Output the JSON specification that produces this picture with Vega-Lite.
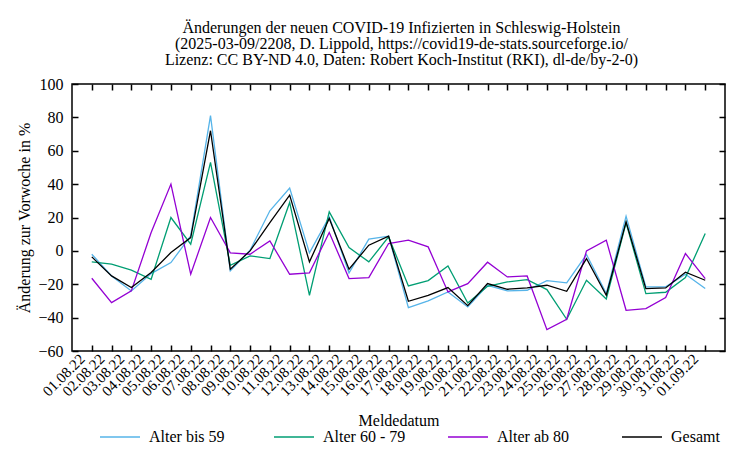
{
  "$schema": "https://vega.github.io/schema/vega-lite/v6.json",
  "width": 653,
  "height": 267,
  "autosize": "none",
  "padding": {"left": 72, "top": 84, "right": 25, "bottom": 99},
  "background": "white",
  "title": {
    "text": ["Änderungen der neuen COVID-19 Infizierten in Schleswig-Holstein", "(2025-03-09/2208, D. Lippold, https://covid19-de-stats.sourceforge.io/", "Lizenz: CC BY-ND 4.0, Daten: Robert Koch-Institut (RKI), dl-de/by-2-0)"],
    "anchor": "middle",
    "frame": "group",
    "font": "Liberation Serif",
    "fontSize": 16,
    "fontWeight": "normal",
    "lineHeight": 16,
    "offset": 8,
    "dx": 3,
    "color": "black"
  },
  "config": {
    "view": {"stroke": "black", "strokeWidth": 1.5},
    "axis": {
      "labelFont": "Liberation Serif",
      "titleFont": "Liberation Serif",
      "labelFontSize": 16,
      "titleFontSize": 16,
      "titleFontWeight": "normal",
      "labelColor": "black",
      "titleColor": "black",
      "domain": false,
      "grid": false,
      "zindex": 1
    },
    "legend": {
      "labelFont": "Liberation Serif",
      "labelFontSize": 16,
      "labelColor": "black"
    }
  },
  "data": {
    "values": [
      {"d": "2022-08-01", "Alter bis 59": -2, "Alter 60 - 79": -6.6, "Alter ab 80": -16.4, "Gesamt": -3.6},
      {"d": "2022-08-02", "Alter bis 59": -15, "Alter 60 - 79": -8, "Alter ab 80": -31, "Gesamt": -15},
      {"d": "2022-08-03", "Alter bis 59": -24, "Alter 60 - 79": -11.6, "Alter ab 80": -24, "Gesamt": -22},
      {"d": "2022-08-04", "Alter bis 59": -13.6, "Alter 60 - 79": -17, "Alter ab 80": 11, "Gesamt": -13},
      {"d": "2022-08-05", "Alter bis 59": -7, "Alter 60 - 79": 20, "Alter ab 80": 40, "Gesamt": -1},
      {"d": "2022-08-06", "Alter bis 59": 9, "Alter 60 - 79": 4, "Alter ab 80": -14, "Gesamt": 8},
      {"d": "2022-08-07", "Alter bis 59": 81, "Alter 60 - 79": 53, "Alter ab 80": 20, "Gesamt": 72},
      {"d": "2022-08-08", "Alter bis 59": -12, "Alter 60 - 79": -8.6, "Alter ab 80": -1.2, "Gesamt": -11},
      {"d": "2022-08-09", "Alter bis 59": 0.4, "Alter 60 - 79": -3, "Alter ab 80": -2, "Gesamt": 0},
      {"d": "2022-08-10", "Alter bis 59": 24, "Alter 60 - 79": -4.6, "Alter ab 80": 6, "Gesamt": 17},
      {"d": "2022-08-11", "Alter bis 59": 37.6, "Alter 60 - 79": 29, "Alter ab 80": -14, "Gesamt": 33.4},
      {"d": "2022-08-12", "Alter bis 59": -1.2, "Alter 60 - 79": -26.6, "Alter ab 80": -13.2, "Gesamt": -6.6},
      {"d": "2022-08-13", "Alter bis 59": 20.4, "Alter 60 - 79": 23.4, "Alter ab 80": 11, "Gesamt": 19.4},
      {"d": "2022-08-14", "Alter bis 59": -13.2, "Alter 60 - 79": 2, "Alter ab 80": -16.6, "Gesamt": -11},
      {"d": "2022-08-15", "Alter bis 59": 7, "Alter 60 - 79": -6.6, "Alter ab 80": -16, "Gesamt": 3.4},
      {"d": "2022-08-16", "Alter bis 59": 8.8, "Alter 60 - 79": 8.4, "Alter ab 80": 4.4, "Gesamt": 8.8},
      {"d": "2022-08-17", "Alter bis 59": -34, "Alter 60 - 79": -21, "Alter ab 80": 6.4, "Gesamt": -30.2},
      {"d": "2022-08-18", "Alter bis 59": -30, "Alter 60 - 79": -17.8, "Alter ab 80": 2.4, "Gesamt": -26.6},
      {"d": "2022-08-19", "Alter bis 59": -24.6, "Alter 60 - 79": -9, "Alter ab 80": -24.6, "Gesamt": -22},
      {"d": "2022-08-20", "Alter bis 59": -33.6, "Alter 60 - 79": -31.2, "Alter ab 80": -19.6, "Gesamt": -32.8},
      {"d": "2022-08-21", "Alter bis 59": -20.6, "Alter 60 - 79": -21.2, "Alter ab 80": -6.8, "Gesamt": -19.6},
      {"d": "2022-08-22", "Alter bis 59": -24, "Alter 60 - 79": -18.6, "Alter ab 80": -15.6, "Gesamt": -23},
      {"d": "2022-08-23", "Alter bis 59": -23.6, "Alter 60 - 79": -17.2, "Alter ab 80": -15, "Gesamt": -22.2},
      {"d": "2022-08-24", "Alter bis 59": -17.8, "Alter 60 - 79": -23.2, "Alter ab 80": -47.2, "Gesamt": -20.6},
      {"d": "2022-08-25", "Alter bis 59": -19.2, "Alter 60 - 79": -41, "Alter ab 80": -41, "Gesamt": -24.2},
      {"d": "2022-08-26", "Alter bis 59": -2.2, "Alter 60 - 79": -17.6, "Alter ab 80": 0, "Gesamt": -4.6},
      {"d": "2022-08-27", "Alter bis 59": -25.6, "Alter 60 - 79": -28.8, "Alter ab 80": 6.4, "Gesamt": -26.6},
      {"d": "2022-08-28", "Alter bis 59": 20.8, "Alter 60 - 79": 16.8, "Alter ab 80": -35.6, "Gesamt": 17.4},
      {"d": "2022-08-29", "Alter bis 59": -21.6, "Alter 60 - 79": -25.6, "Alter ab 80": -34.6, "Gesamt": -22.6},
      {"d": "2022-08-30", "Alter bis 59": -21.6, "Alter 60 - 79": -24.8, "Alter ab 80": -28, "Gesamt": -22.2},
      {"d": "2022-08-31", "Alter bis 59": -14, "Alter 60 - 79": -16, "Alter ab 80": -1.6, "Gesamt": -12.8},
      {"d": "2022-09-01", "Alter bis 59": -22.6, "Alter 60 - 79": 10.4, "Alter ab 80": -16.6, "Gesamt": -17.6}
    ]
  },
  "transform": [
    {"fold": ["Alter bis 59", "Alter 60 - 79", "Alter ab 80", "Gesamt"], "as": ["Gruppe", "Wert"]}
  ],
  "layer": [
    {
      "mark": {"type": "line", "strokeWidth": 1.3},
      "encoding": {
        "x": {
          "field": "d",
          "type": "temporal",
          "scale": {"type": "utc", "domain": [{"year": 2022, "month": 7, "date": 31, "minutes": 1, "utc": true}, {"year": 2022, "month": 9, "date": 1, "hours": 23, "minutes": 59, "utc": true}]},
          "axis": {
            "orient": "bottom",
            "title": "Meldedatum",
            "format": "%d.%m.%y",
            "tickCount": {"interval": "day", "step": 1},
            "ticks": true,
            "tickSize": 6,
            "tickColor": "black",
            "tickWidth": 1.5,
            "offset": -6,
            "labelFont": "Liberation Serif",
            "labelFontSize": 15,
            "labelAngle": -45,
            "labelAlign": "right",
            "labelBaseline": "middle",
            "labelPadding": 5,
            "labelOffset": -10,
            "labelOverlap": false,
            "titlePadding": 14
          }
        },
        "y": {
          "field": "Wert",
          "type": "quantitative",
          "scale": {"domain": [-60, 100], "nice": false, "zero": false},
          "axis": {
            "orient": "left",
            "title": "Änderung zur Vorwoche in %",
            "values": [-60, -40, -20, 0, 20, 40, 60, 80, 100],
            "ticks": true,
            "tickSize": 6,
            "tickColor": "black",
            "tickWidth": 1.5,
            "offset": -6,
            "labelFont": "Liberation Serif",
            "labelOverlap": false,
            "labelPadding": 9,
            "titlePadding": 5
          }
        },
        "color": {
          "field": "Gruppe",
          "type": "nominal",
          "scale": {
            "domain": ["Alter bis 59", "Alter 60 - 79", "Alter ab 80", "Gesamt"],
            "range": ["#56b4e9", "#009e73", "#9400d3", "#000000"]
          },
          "legend": {
            "title": null,
            "orient": "none",
            "legendX": 27,
            "legendY": 332,
            "direction": "horizontal",
            "columns": 4,
            "gridAlign": "all",
            "columnPadding": 39,
            "symbolType": "stroke",
            "symbolSize": 1600,
            "symbolStrokeWidth": 1.5,
            "labelFont": "Liberation Serif",
            "labelFontSize": 16,
            "labelOffset": 8,
            "labelLimit": 200
          }
        }
      }
    },
    {
      "mark": {"type": "line", "strokeOpacity": 0},
      "encoding": {
        "x": {
          "field": "d",
          "type": "temporal",
          "axis": {"orient": "top", "title": null, "labels": false, "ticks": true, "tickSize": 6, "tickColor": "black", "tickWidth": 1.5, "offset": -6, "tickCount": {"interval": "day", "step": 1}}
        },
        "y": {
          "field": "Wert",
          "type": "quantitative",
          "axis": {"orient": "right", "title": null, "labels": false, "ticks": true, "tickSize": 6, "tickColor": "black", "tickWidth": 1.5, "offset": -6, "values": [-60, -40, -20, 0, 20, 40, 60, 80, 100]}
        },
        "detail": {"field": "Gruppe"}
      }
    }
  ]
}
